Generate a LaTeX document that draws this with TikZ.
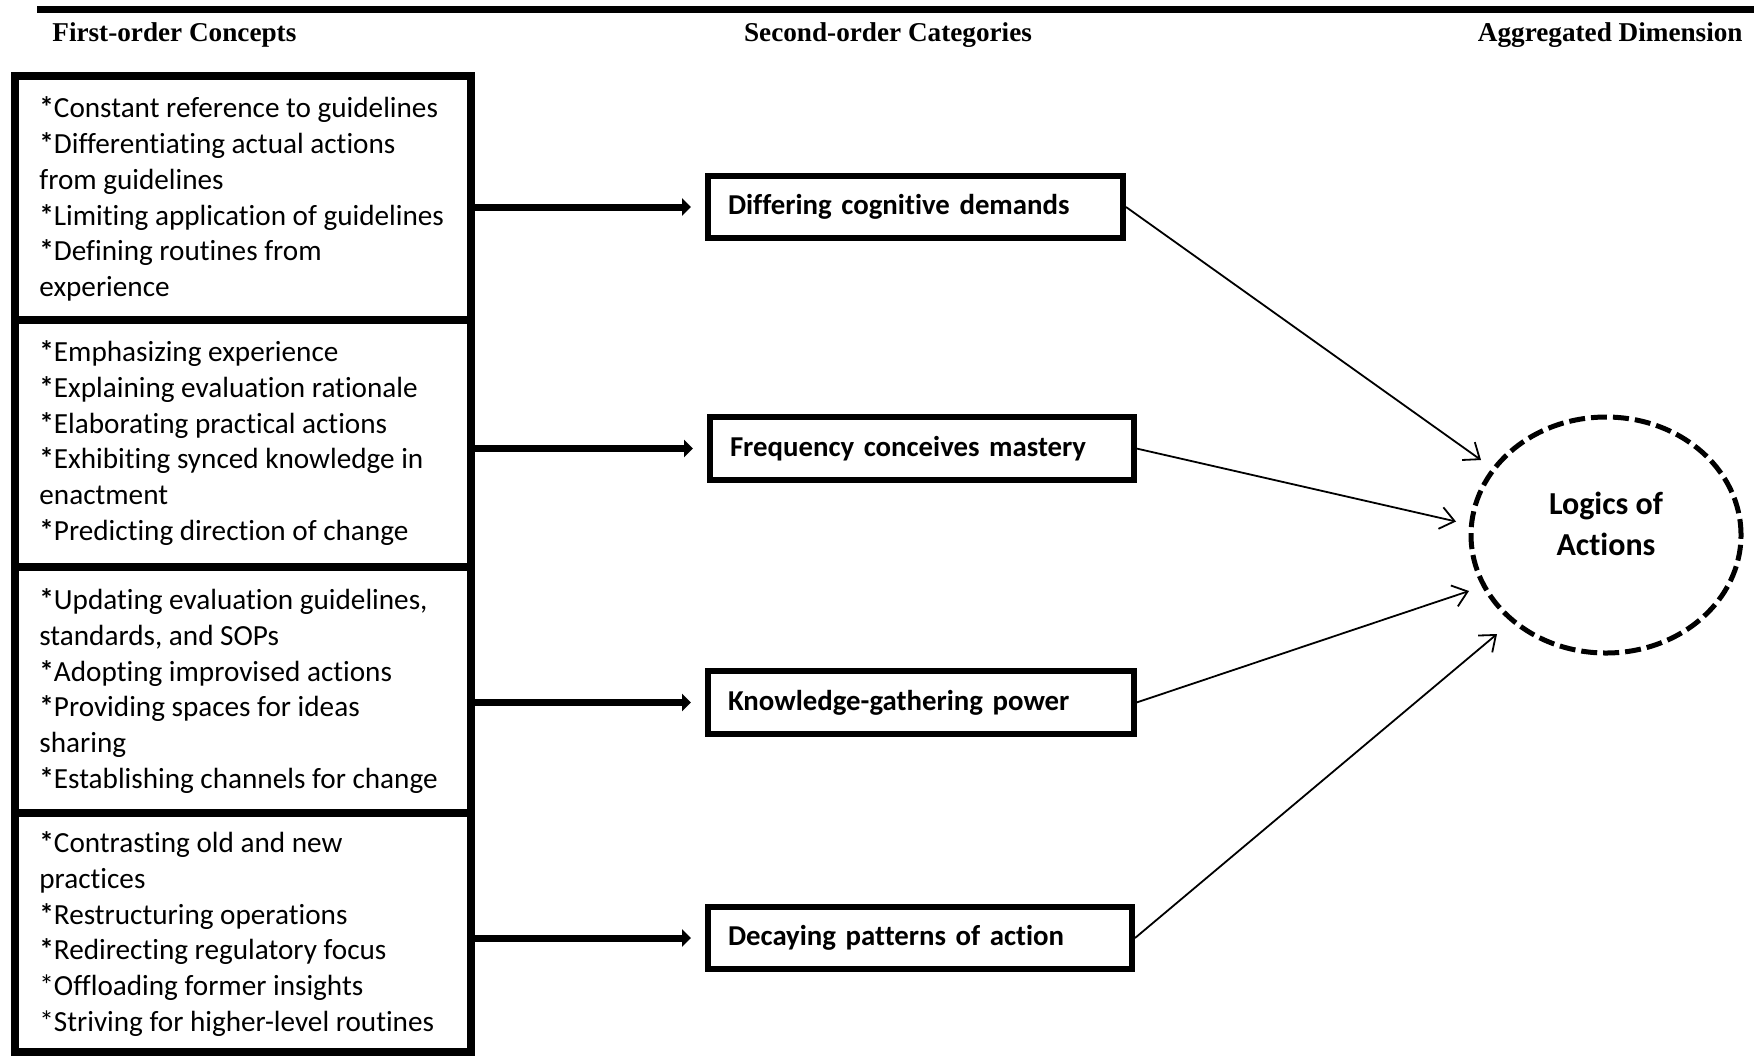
\documentclass[tikz,border=0pt]{standalone}
\usepackage{fontspec}
\newfontfamily\calfont[Ligatures=NoCommon]{Carlito}
\newfontfamily\hdrfont{Liberation Serif}
\usetikzlibrary{arrows.meta,shapes.geometric}
\newcommand{\bast}{\textbf{*}}
\begin{document}
\begin{tikzpicture}[x=0.5pt,y=-0.5pt,
  hdr/.style={font=\hdrfont\bfseries\fontsize{13.6}{16}\selectfont, inner sep=0pt},
  leftbox/.style={draw, line width=4pt, minimum width=228.25pt, inner sep=0pt},
  listtext/.style={font=\calfont\fontsize{14.6}{17.9}\selectfont, align=left, inner sep=0pt, anchor=west},
  catbox/.style={draw, line width=3pt, inner xsep=10pt, inner ysep=0pt, align=left,
    font=\calfont\bfseries\fontsize{14.4}{17}\selectfont},
  bigarrow/.style={line width=3.5pt, -{Triangle[length=4.5pt,width=8.5pt]}, shorten >=7pt},
  thinarrow/.style={line width=0.9pt, -{Straight Barb[length=7pt,width=11pt,line width=0.9pt]}},
  dimnode/.style={draw, dash pattern=on 8pt off 3pt, line width=2.5pt, ellipse,
    minimum width=135pt, minimum height=118pt, inner sep=0pt},
  dimtext/.style={font=\calfont\bfseries\fontsize{16}{20.7}\selectfont, align=center, inner sep=0pt}
]
\useasboundingbox (0,0) rectangle (1754,1057);
\fill[white] (0,0) rectangle (1754,1057);

% top rule
\coordinate (r1) at (37,9.5);
\coordinate (r2) at (1754,9.5);
\draw[line width=3.25pt] (r1) -- (r2);

% headers
\node[hdr, anchor=west] (h1) at (52,35) {First-order Concepts};
\node[hdr] (h2) at (888,35) {Second-order Categories};
\node[hdr, anchor=east] (h3) at (1743,35) {Aggregated Dimension};

% left boxes
\node[leftbox, minimum height=122pt] (lb1) at (242.75,198) {};
\node[leftbox, minimum height=123.5pt] (lb2) at (242.75,443.5) {};
\node[leftbox, minimum height=123pt] (lb3) at (242.75,690) {};
\node[leftbox, minimum height=119.25pt] (lb4) at (242.75,932.25) {};

\node[listtext] (t1) at (39,199) {\bast Constant reference to guidelines\\
\bast Differentiating actual actions\\
from guidelines\\
\bast Limiting application of guidelines\\
\bast Defining routines from\\
experience};

\node[listtext] (t2) at (39,443) {\bast Emphasizing experience\\
\bast Explaining evaluation rationale\\
\bast Elaborating practical actions\\
\bast Exhibiting synced knowledge in\\
enactment\\
\bast Predicting direction of change};

\node[listtext] (t3) at (39,691) {\bast Updating evaluation guidelines,\\
standards, and SOPs\\
\bast Adopting improvised actions\\
\bast Providing spaces for ideas\\
sharing\\
\bast Establishing channels for change};

\node[listtext] (t4) at (39,934) {\bast Contrasting old and new\\
practices\\
\bast Restructuring operations\\
\bast Redirecting regulatory focus\\
*Offloading former insights\\
*Striving for higher-level routines};

% category boxes
\node[catbox, text width=187.5pt, minimum height=31pt] (cb1) at (915.5,207) {Differing cognitive demands};
\node[catbox, text width=191.75pt, minimum height=31.5pt] (cb2) at (921.75,448.5) {Frequency conceives mastery};
\node[catbox, text width=192.75pt, minimum height=31.5pt] (cb3) at (920.75,702.5) {Knowledge-gathering power};
\node[catbox, text width=192pt, minimum height=31pt] (cb4) at (920,938) {Decaying patterns of action};

% dimension
\node[dimnode] (dim) at (1606,535) {};
\node[dimtext] (dimt) at (1606,524) {Logics of\\Actions};

% thick arrows
\draw[bigarrow] (lb1.east |- cb1.west) -- (cb1.west);
\draw[bigarrow] (lb2.east |- cb2.west) -- (cb2.west);
\draw[bigarrow] (lb3.east |- cb3.west) -- (cb3.west);
\draw[bigarrow] (lb4.east |- cb4.west) -- (cb4.west);

% thin arrows
\coordinate (e1) at (1481,460);
\coordinate (e2) at (1456,521.5);
\coordinate (e3) at (1469,591);
\coordinate (e4) at (1497,634);
\draw[thinarrow] (cb1.east) -- (e1);
\draw[thinarrow] (cb2.east) -- (e2);
\draw[thinarrow] (cb3.east) -- (e3);
\draw[thinarrow] (cb4.east) -- (e4);
\end{tikzpicture}
\end{document}
